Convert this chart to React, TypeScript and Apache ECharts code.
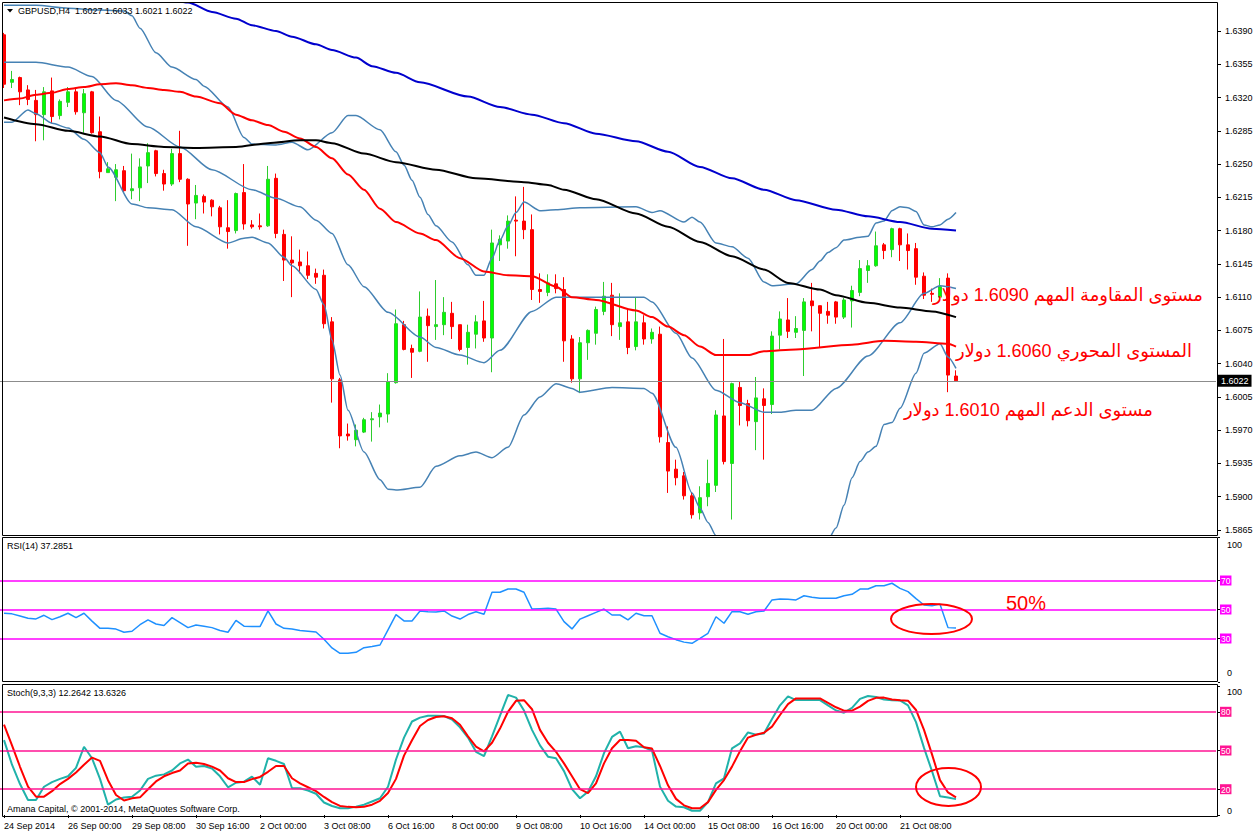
import React, { useEffect, useRef } from 'react';
import * as echarts from 'echarts';

// ---------- data ----------
const symbolName = 'GBPUSD,H4';
const tickLabels = [
  '24 Sep 2014', '26 Sep 00:00', '29 Sep 08:00', '30 Sep 16:00', '2 Oct 00:00',
  '3 Oct 08:00', '6 Oct 16:00', '8 Oct 00:00', '9 Oct 08:00', '10 Oct 16:00',
  '14 Oct 00:00', '15 Oct 08:00', '16 Oct 16:00', '20 Oct 00:00', '21 Oct 08:00',
];
const priceTicks = [
  1.5865, 1.59, 1.5935, 1.597, 1.6005, 1.604, 1.6075, 1.611, 1.6145, 1.618,
  1.6215, 1.625, 1.6285, 1.632, 1.6355, 1.639,
];
const priceMin = 1.585974;
const priceMax = 1.641946;

// [open, close, low, high]
const candles = [
  [1.6386, 1.6334, 1.633, 1.6388], [1.6336, 1.6339, 1.633, 1.6348], [1.6341, 1.6326, 1.6312, 1.6342],
  [1.6328, 1.6318, 1.6312, 1.6333], [1.6317, 1.6302, 1.6274, 1.6328], [1.6302, 1.6326, 1.6275, 1.6331],
  [1.6327, 1.63, 1.6293, 1.6341], [1.6301, 1.6316, 1.6297, 1.6318], [1.6315, 1.6326, 1.631, 1.6331],
  [1.6326, 1.6305, 1.6302, 1.6329], [1.6304, 1.6324, 1.6283, 1.6329], [1.6326, 1.6283, 1.6282, 1.6327],
  [1.6284, 1.6242, 1.6235, 1.63], [1.6241, 1.6245, 1.6241, 1.6252], [1.6236, 1.6244, 1.6211, 1.625],
  [1.6243, 1.6222, 1.622, 1.6248], [1.6222, 1.6224, 1.6213, 1.6261], [1.6225, 1.6247, 1.6211, 1.6256],
  [1.6248, 1.6262, 1.623, 1.6272], [1.6264, 1.624, 1.6237, 1.6265], [1.624, 1.6229, 1.6222, 1.6244],
  [1.6229, 1.6261, 1.6227, 1.6266], [1.6261, 1.6234, 1.6231, 1.6285], [1.6234, 1.6208, 1.6164, 1.6235],
  [1.6209, 1.6217, 1.6192, 1.6228], [1.6216, 1.621, 1.6198, 1.6218], [1.6212, 1.6205, 1.6195, 1.6213],
  [1.6204, 1.6184, 1.6176, 1.6206], [1.6183, 1.6179, 1.6161, 1.6212], [1.618, 1.6219, 1.6177, 1.622],
  [1.622, 1.6187, 1.6181, 1.625], [1.6186, 1.6184, 1.6182, 1.6191], [1.6185, 1.6184, 1.6181, 1.6198],
  [1.6185, 1.6234, 1.6184, 1.6248], [1.6235, 1.6177, 1.6172, 1.624], [1.6176, 1.6149, 1.6127, 1.6181],
  [1.6149, 1.6146, 1.611, 1.6174], [1.6147, 1.6143, 1.6135, 1.616], [1.6143, 1.6133, 1.6129, 1.6158],
  [1.6135, 1.6131, 1.6124, 1.614], [1.6133, 1.6082, 1.6077, 1.6139], [1.6084, 1.6024, 1.5999, 1.6089],
  [1.6023, 1.5964, 1.5951, 1.6025], [1.5966, 1.5964, 1.5959, 1.5977], [1.596, 1.597, 1.5953, 1.5976],
  [1.5968, 1.5981, 1.5967, 1.5983], [1.5981, 1.5982, 1.5958, 1.5989], [1.5984, 1.5988, 1.5973, 1.5997],
  [1.5987, 1.6021, 1.5978, 1.603], [1.602, 1.6082, 1.6019, 1.6097], [1.6081, 1.6055, 1.6054, 1.6085],
  [1.6056, 1.6052, 1.6025, 1.606], [1.6053, 1.6089, 1.6052, 1.6116], [1.609, 1.608, 1.6042, 1.6098],
  [1.6079, 1.6081, 1.6065, 1.6128], [1.6081, 1.6094, 1.607, 1.611], [1.6093, 1.6079, 1.6066, 1.6105],
  [1.6081, 1.6055, 1.6053, 1.6081], [1.6057, 1.6073, 1.6039, 1.6081], [1.6071, 1.6084, 1.6056, 1.6091],
  [1.6085, 1.6067, 1.6063, 1.6106], [1.6067, 1.6167, 1.6031, 1.6181], [1.6165, 1.6171, 1.6148, 1.6175],
  [1.6169, 1.619, 1.6161, 1.6196], [1.6191, 1.619, 1.6153, 1.6216], [1.619, 1.6181, 1.6171, 1.6226],
  [1.6181, 1.6118, 1.6107, 1.6197], [1.6118, 1.6116, 1.6104, 1.6135], [1.6115, 1.6125, 1.6111, 1.6134],
  [1.6124, 1.6119, 1.6114, 1.6134], [1.6118, 1.6064, 1.6042, 1.6131], [1.6066, 1.6024, 1.602, 1.607],
  [1.6024, 1.6062, 1.6009, 1.6068], [1.6062, 1.6075, 1.6044, 1.6076], [1.6072, 1.6097, 1.606, 1.61],
  [1.6095, 1.6111, 1.6091, 1.6126], [1.6112, 1.6081, 1.6069, 1.6125], [1.6079, 1.6083, 1.6065, 1.6114],
  [1.6084, 1.6057, 1.605, 1.6097], [1.6058, 1.6084, 1.6054, 1.611], [1.6083, 1.6066, 1.606, 1.6091],
  [1.6066, 1.6073, 1.6061, 1.6077], [1.6071, 1.5963, 1.5957, 1.6079], [1.5957, 1.5927, 1.5904, 1.5974],
  [1.5929, 1.592, 1.5912, 1.5939], [1.5922, 1.5901, 1.5897, 1.5926], [1.5901, 1.5881, 1.5877, 1.5905],
  [1.5883, 1.5899, 1.5876, 1.5911], [1.59, 1.5914, 1.589, 1.5939], [1.5912, 1.5986, 1.5905, 1.5991],
  [1.5985, 1.5937, 1.5934, 1.6066], [1.5935, 1.6019, 1.5876, 1.602], [1.6015, 1.5996, 1.5975, 1.6021],
  [1.5998, 1.598, 1.5974, 1.6002], [1.5979, 1.6004, 1.5949, 1.6026], [1.6003, 1.5996, 1.5939, 1.6014],
  [1.5997, 1.6069, 1.5987, 1.6074], [1.607, 1.6087, 1.6055, 1.6095], [1.6086, 1.6074, 1.6067, 1.6109],
  [1.6073, 1.6077, 1.6067, 1.609], [1.6075, 1.6105, 1.6027, 1.6109], [1.6106, 1.6101, 1.6074, 1.6125],
  [1.6101, 1.6093, 1.6057, 1.6101], [1.6095, 1.6091, 1.6082, 1.6105], [1.6105, 1.6089, 1.6082, 1.6106],
  [1.6089, 1.6107, 1.6087, 1.6109], [1.6106, 1.6117, 1.6078, 1.6122], [1.6115, 1.614, 1.6111, 1.6149],
  [1.6138, 1.6143, 1.6125, 1.6149], [1.6143, 1.6164, 1.6142, 1.6179], [1.6165, 1.6159, 1.615, 1.6167],
  [1.616, 1.6182, 1.6152, 1.6183], [1.6182, 1.6165, 1.6148, 1.6183], [1.6165, 1.6159, 1.6139, 1.6177],
  [1.6161, 1.6131, 1.6123, 1.6167], [1.6132, 1.6112, 1.6108, 1.6136], [1.6114, 1.6113, 1.6105, 1.6119],
  [1.611, 1.6121, 1.6109, 1.613], [1.613, 1.6028, 1.601, 1.6135], [1.6027, 1.6022, 1.6021, 1.6033],
];

// indicator lines: [bar index, price] read at points along the curves
const ma200Blue = [
  [20, 1.6424], [23, 1.642], [26, 1.641], [29, 1.6403], [31, 1.6396], [34, 1.639], [36, 1.6384],
  [39, 1.6376], [41, 1.637], [44, 1.6362], [46, 1.6353], [49, 1.6346], [52, 1.6336], [58, 1.6321],
  [62, 1.631], [66, 1.6302], [70, 1.6293], [74, 1.6282], [79, 1.6274], [83, 1.6263], [87, 1.6247],
  [91, 1.6235], [95, 1.6223], [99, 1.6212], [104, 1.6202], [108, 1.6195], [112, 1.6189],
  [116, 1.6182], [119, 1.618],
];
const ma100Black = [
  [0, 1.6299], [4, 1.6292], [8, 1.6285], [12, 1.6279], [16, 1.6271], [20, 1.6268], [24, 1.6267],
  [29, 1.6268], [33, 1.6272], [37, 1.6275], [39, 1.6275], [41, 1.6272], [45, 1.6261], [49, 1.6252],
  [54, 1.6244], [59, 1.6235], [65, 1.6231], [68, 1.6228], [70, 1.6223], [74, 1.6213], [79, 1.6198],
  [83, 1.6184], [87, 1.6168], [91, 1.6153], [95, 1.6139], [98, 1.6125], [102, 1.6118], [104, 1.6112],
  [108, 1.6104], [112, 1.6099], [116, 1.6095], [119, 1.6089],
];
const ma50Red = [
  [0, 1.6317], [2, 1.6319], [4, 1.6323], [6, 1.6325], [8, 1.6329], [10, 1.6331], [12, 1.6334],
  [14, 1.6335], [16, 1.6333], [18, 1.633], [20, 1.6328], [22, 1.6326], [24, 1.6321], [27, 1.6314],
  [29, 1.6302], [31, 1.6296], [33, 1.6291], [35, 1.6284], [37, 1.6277], [39, 1.6268], [41, 1.6256],
  [43, 1.6239], [45, 1.6223], [47, 1.6203], [49, 1.6189], [52, 1.6177], [54, 1.617], [57, 1.6151],
  [60, 1.6137], [63, 1.6133], [66, 1.6132], [69, 1.6121], [71, 1.611], [74, 1.6107], [79, 1.6096],
  [81, 1.6089], [83, 1.6079], [85, 1.607], [87, 1.6058], [89, 1.6049], [93, 1.6049], [95, 1.6053],
  [99, 1.6055], [106, 1.606], [110, 1.6064], [114, 1.6063], [118, 1.6061], [119, 1.6058],
];
const bbUpper = [
  [0, 1.6417], [4, 1.6417], [8, 1.6414], [12, 1.6412], [15, 1.6411], [16, 1.6406], [17, 1.6393],
  [19, 1.6367], [21, 1.6352], [24, 1.6339], [25, 1.6332], [28, 1.631], [30, 1.6278], [31, 1.6271],
  [34, 1.627], [36, 1.6273], [38, 1.6265], [41, 1.6283], [43, 1.6301], [44, 1.6301], [47, 1.6286],
  [49, 1.6263], [50, 1.6249], [51, 1.6233], [52, 1.6215], [53, 1.6197], [54, 1.6185], [56, 1.6168],
  [58, 1.6144], [59, 1.6133], [60, 1.6133], [61, 1.6151], [62, 1.617], [63, 1.6185], [64, 1.6199],
  [65, 1.621], [67, 1.6201], [69, 1.6202], [72, 1.6204], [79, 1.6205], [81, 1.6199], [82, 1.6201],
  [85, 1.6189], [86, 1.6194], [87, 1.6189], [89, 1.6167], [91, 1.6163], [93, 1.6151], [95, 1.6126],
  [96, 1.6122], [99, 1.6124], [101, 1.6139], [102, 1.6148], [103, 1.6157], [104, 1.6162],
  [105, 1.617], [107, 1.6173], [108, 1.6174], [109, 1.6188], [110, 1.619], [111, 1.6201],
  [112, 1.6205], [113, 1.6204], [114, 1.62], [115, 1.6186], [116, 1.6184], [117, 1.6186],
  [118, 1.6192], [119, 1.6199],
];
const bbMiddle = [
  [0, 1.6357], [4, 1.6357], [8, 1.6352], [11, 1.6342], [14, 1.6317], [18, 1.6289], [22, 1.6268],
  [26, 1.6244], [31, 1.6223], [34, 1.6214], [37, 1.6205], [39, 1.6191], [41, 1.6177], [43, 1.6144],
  [45, 1.6121], [48, 1.6094], [52, 1.6068], [54, 1.6057], [57, 1.6049], [60, 1.6041], [62, 1.6054],
  [66, 1.6095], [69, 1.611], [80, 1.611], [81, 1.6105], [84, 1.6072], [86, 1.6046], [89, 1.6012],
  [92, 1.5999], [95, 1.5989], [97, 1.5989], [99, 1.5991], [101, 1.5991], [104, 1.6014],
  [108, 1.6048], [112, 1.6083], [115, 1.6114], [117, 1.6122], [119, 1.6119],
];
const bbLower = [
  [0, 1.6294], [1, 1.6294], [3, 1.6307], [4, 1.6303], [6, 1.6293], [8, 1.6288], [10, 1.6276],
  [12, 1.6262], [13, 1.6247], [16, 1.6208], [18, 1.6204], [21, 1.6202], [24, 1.6184], [28, 1.6167],
  [30, 1.6172], [31, 1.6173], [33, 1.6167], [35, 1.6152], [36, 1.6143], [39, 1.6118], [40, 1.6102],
  [41, 1.6065], [42, 1.6028], [43, 1.5991], [45, 1.5947], [47, 1.5918], [48, 1.5908], [49, 1.5907],
  [52, 1.591], [54, 1.5932], [57, 1.5943], [59, 1.5947], [61, 1.5941], [63, 1.5952], [65, 1.5986],
  [67, 1.6005], [69, 1.6019], [71, 1.6014], [72, 1.601], [76, 1.6015], [80, 1.6014], [81, 1.6009],
  [84, 1.5952], [86, 1.5904], [87, 1.5888], [88, 1.5873], [89, 1.5859], [90, 1.5848], [92, 1.5843],
  [96, 1.584], [100, 1.5843], [102, 1.5848], [103, 1.5855], [104, 1.5867], [105, 1.5891],
  [106, 1.592], [107, 1.5937], [108, 1.5947], [109, 1.5953], [110, 1.5976], [111, 1.5978],
  [112, 1.5993], [114, 1.603], [115, 1.6051], [117, 1.6061], [118, 1.6047], [119, 1.6035],
];

const rsiValues = [
  47.4, 47, 45.5, 44, 43.5, 46, 43, 45, 47.4, 44.4, 47.4, 42, 37, 37, 36.5, 34.3, 35, 39.5, 42.8, 40,
  39, 44.4, 41, 37.5, 39.3, 38.5, 37.5, 35.5, 34.3, 42.5, 38.5, 38.2, 38.2, 49, 40, 37, 36.6, 35.5, 35, 34.5,
  29.5, 23.5, 19.8, 19.8, 20.5, 23.7, 24.5, 25.5, 36, 46.5, 42.1, 42.1, 49, 48.5, 48.3, 49, 45.5, 43.4, 46.5, 48.5,
  46.7, 61.9, 61.9, 64.1, 64.1, 61.9, 50.3, 50.6, 50.8, 50.3, 41.6, 36.6, 43.4, 45.7, 48, 50.3, 46.2, 46.2, 42.8, 47.4,
  45.7, 45.7, 33.6, 31.2, 29.2, 27.5, 26.7, 30.1, 33.6, 45, 40.5, 48.5, 48.5, 46.7, 48.5, 49, 56.6, 57.2, 57, 56.6,
  59.5, 58.5, 57.7, 57.7, 57.7, 59.5, 60.5, 64.1, 64.1, 66.4, 66.4, 68.1, 64.6, 62.3, 57.5, 53.1, 52.6, 53.7, 37.5, 37.3,
];
const stochMain = [
  58, 39, 24, 11.6, 11.6, 21.9, 25.5, 28, 30, 36.5, 52.9, 44, 28, 8, 12, 13.5, 14.2, 19, 28, 30.5,
  31.5, 34.5, 40, 43, 37.4, 38, 36, 30, 21.5, 25, 25.8, 29.7, 23.5, 44, 42, 39.5, 20.7, 20.7, 19, 16.5,
  9.7, 7, 5.2, 5.2, 6.5, 8, 10.5, 13, 21.9, 43, 60, 72.5, 75.5, 77, 77, 76.7, 74, 68, 60, 49,
  45.7, 61, 77, 93, 91, 81, 66, 54, 45.2, 44, 34, 20, 13, 18, 30, 48, 60.5, 64.6, 51.7, 53.3,
  52.5, 50, 22, 11, 6.5, 6, 3.3, 3.3, 10, 24.5, 28.4, 51.7, 55.5, 64, 62.3, 63.2, 74.5, 85, 92, 89.1,
  89.1, 89.1, 89.1, 85, 81, 79.3, 83, 90, 92.2, 91.5, 89.5, 89, 88.8, 85, 72, 52, 34, 14.5, 13.5, 12.3,
];
const stochSignal = [
  70, 54, 37.4, 22, 14.2, 14.2, 18.5, 24, 28, 33, 39, 44.5, 42, 27, 15.5, 11.2, 12.9, 13.7, 20, 26,
  30, 32.5, 34.5, 40, 40.5, 39.5, 37.5, 34.5, 28.5, 25.5, 25.5, 27.8, 29.5, 33.5, 38, 38, 28.5, 24.5, 21.5, 18.5,
  14, 10, 7, 6.3, 6, 6.4, 8, 11, 17, 28, 46, 58, 69, 73.6, 76, 76.5, 75, 70, 61, 53,
  49.3, 56, 67, 80, 88.5, 89, 82, 66, 56, 49, 40, 30, 20, 17, 24.5, 40, 51.7, 58.1, 58.1, 57.5,
  52.5, 51.5, 38, 23, 12.5, 7.5, 5.2, 5.2, 10, 19.5, 27.1, 37.5, 49.5, 60, 62.2, 63.8, 68.5, 77.5, 86, 90.4,
  90.4, 90.4, 90.4, 87, 83.5, 80.9, 80.9, 84, 88.5, 90.8, 91, 89.5, 89, 88.6, 81.4, 66, 47, 27, 17.5, 13.6,
];
const rsiLevels = [30, 50, 70];
const rsiAxisValues = [0, 30, 50, 70, 100];
const stochLevels = [20, 50, 80];
const stochAxisValues = [0, 20, 50, 80, 100];
const rsiReading = 'RSI(14) 37.2851';
const stochReading = 'Stoch(9,3,3) 12.2642 13.6326';
const copyright = 'Amana Capital, © 2001-2014, MetaQuotes Software Corp.';
const noteResistance = 'مستوى المقاومة المهم 1.6090 دولار';
const notePivot = 'المستوى المحوري 1.6060 دولار';
const noteSupport = 'مستوى الدعم المهم 1.6010 دولار';
const noteRsi = '50%';

// ---------- layout ----------
const BAR_SLOTS = 152;
const FONT = '"Liberation Sans", Arial, sans-serif';
const AR_FONT = '"Liberation Sans", "DejaVu Sans", sans-serif';

const categories = Array.from({ length: BAR_SLOTS }, (_, i) =>
  i % 8 === 0 && i / 8 < tickLabels.length ? tickLabels[i / 8] : ''
);
const showTick = (i: number) => i % 8 === 0 && i / 8 < tickLabels.length;

const last = candles[candles.length - 1];
const titleText = `${symbolName}  ${last[0].toFixed(4)} ${last[3].toFixed(4)} ${last[2].toFixed(4)} ${last[1].toFixed(4)}`;

function levelAxisLabel(color: string, topPad: number, botPad: number, values: number[]) {
  return {
    show: true,
    customValues: values,
    margin: 2,
    formatter: (v: number) => (v === 100 ? `{top|${v}}` : v === 0 ? `{bot|${v}}` : `{lv|${v}}`),
    rich: {
      top: { color: '#000', fontSize: 9, fontFamily: FONT, padding: [topPad, 0, 0, 7] },
      bot: { color: '#000', fontSize: 9, fontFamily: FONT, padding: [0, 0, botPad, 7] },
      lv: { color: '#fff', backgroundColor: color, fontSize: 8.5, fontFamily: FONT, padding: [1, 1, 0, 1] },
    },
  };
}

export default function App() {
  const ref = useRef<HTMLDivElement>(null);

  useEffect(() => {
    if (!ref.current) return;
    const chart = echarts.init(ref.current, undefined, { renderer: 'svg' });

    const hiddenX = (gi: number) => ({
      type: 'category', gridIndex: gi, data: categories, boundaryGap: true, show: false,
    });

    const lineSeries = (name: string, data: number[][], color: string, width: number) => ({
      name, type: 'line', xAxisIndex: 0, yAxisIndex: 0, data, symbol: 'none',
      smooth: 0.25, smoothMonotone: 'x', silent: true,
      lineStyle: { color, width }, z: 3,
    });

    const option: any = {
      animation: false,
      backgroundColor: '#ffffff',
      textStyle: { fontFamily: FONT },
      grid: [
        { left: 0, top: 3, width: 1216, height: 532, show: false, outerBoundsMode: 'none' },
        { left: 0, top: 537, width: 1216, height: 145, show: false, outerBoundsMode: 'none' },
        { left: 0, top: 686, width: 1216, height: 129, show: false, outerBoundsMode: 'none' },
      ],
      xAxis: [
        hiddenX(0),
        hiddenX(1),
        {
          type: 'category', gridIndex: 2, data: categories, boundaryGap: true, offset: 1.5,
          axisLine: { show: false },
          axisTick: { show: true, interval: showTick, alignWithLabel: true, length: 3, lineStyle: { color: '#000' } },
          axisLabel: { show: true, interval: showTick, align: 'left', fontSize: 9, color: '#000', margin: 5, fontFamily: FONT },
          splitLine: { show: false },
        },
      ],
      yAxis: [
        {
          type: 'value', gridIndex: 0, position: 'right', offset: 2, min: priceMin, max: priceMax,
          axisLine: { show: false }, splitLine: { show: false },
          axisTick: { show: true, customValues: priceTicks, length: 3, lineStyle: { color: '#000' } },
          axisLabel: {
            show: true, customValues: priceTicks, formatter: (v: number) => v.toFixed(4),
            color: '#000', fontSize: 9, fontFamily: FONT, margin: 7,
          },
        },
        {
          type: 'value', gridIndex: 1, position: 'right', offset: 2, min: 0, max: 100,
          axisLine: { show: false }, splitLine: { show: false },
          axisTick: { show: true, customValues: rsiAxisValues, length: 2, lineStyle: { color: '#000' } },
          axisLabel: levelAxisLabel('#FF00FF', 16, 18, rsiAxisValues),
        },
        {
          type: 'value', gridIndex: 2, position: 'right', offset: 2, min: 0, max: 100,
          axisLine: { show: false }, splitLine: { show: false },
          axisTick: { show: true, customValues: stochAxisValues, length: 2, lineStyle: { color: '#000' } },
          axisLabel: levelAxisLabel('#FF1493', 11, 9, stochAxisValues),
        },
      ],
      series: [
        {
          name: 'price', type: 'candlestick', xAxisIndex: 0, yAxisIndex: 0, data: candles,
          barWidth: 3, silent: true, z: 2,
          itemStyle: { color: '#00FF00', color0: '#FF0000', borderColor: '#2ECC2E', borderColor0: '#FF0000', borderWidth: 1 },
        },
        lineSeries('bbUpper', bbUpper, '#4682B4', 1.5),
        lineSeries('bbMiddle', bbMiddle, '#4682B4', 1.5),
        lineSeries('bbLower', bbLower, '#4682B4', 1.5),
        {
          ...lineSeries('ma50', ma50Red, '#FF0000', 2),
          markLine: {
            silent: true, symbol: ['none', 'none'], animation: false, precision: 4,
            lineStyle: { color: '#8C8C8C', width: 1, type: 'solid' },
            label: {
              show: true, position: 'end', formatter: last[1].toFixed(4), distance: 2,
              backgroundColor: '#000', color: '#fff', fontSize: 9, fontFamily: FONT, padding: [2, 3, 1, 3],
            },
            data: [{ yAxis: last[1] }],
          },
        },
        lineSeries('ma100', ma100Black, '#000000', 2),
        lineSeries('ma200', ma200Blue, '#0000CD', 2),
        {
          name: 'rsi', type: 'line', xAxisIndex: 1, yAxisIndex: 1, data: rsiValues, symbol: 'none', silent: true,
          lineStyle: { color: '#1E90FF', width: 1.5 }, z: 3,
          markLine: {
            silent: true, symbol: ['none', 'none'], animation: false, label: { show: false },
            lineStyle: { color: '#FF00FF', width: 1.5, type: 'solid' },
            data: rsiLevels.map((v) => ({ yAxis: v })),
          },
        },
        {
          name: 'stochMain', type: 'line', xAxisIndex: 2, yAxisIndex: 2, data: stochMain, symbol: 'none', silent: true,
          lineStyle: { color: '#20B2AA', width: 2 }, z: 3,
          markLine: {
            silent: true, symbol: ['none', 'none'], animation: false, label: { show: false },
            lineStyle: { color: '#FF1493', width: 1.5, type: 'solid' },
            data: stochLevels.map((v) => ({ yAxis: v })),
          },
        },
        {
          name: 'stochSignal', type: 'line', xAxisIndex: 2, yAxisIndex: 2, data: stochSignal, symbol: 'none', silent: true,
          lineStyle: { color: '#FF0000', width: 2 }, z: 4,
        },
      ],
      graphic: [
        { type: 'rect', silent: true, z: 50, shape: { x: 2.5, y: 2.5, width: 1215, height: 533 }, style: { fill: 'none', stroke: '#000', lineWidth: 1 } },
        { type: 'rect', silent: true, z: 50, shape: { x: 2.5, y: 537.5, width: 1215, height: 144 }, style: { fill: 'none', stroke: '#000', lineWidth: 1 } },
        { type: 'rect', silent: true, z: 50, shape: { x: 2.5, y: 684.5, width: 1215, height: 132 }, style: { fill: 'none', stroke: '#000', lineWidth: 1 } },
        { type: 'polygon', silent: true, z: 50, shape: { points: [[7, 9], [13, 9], [10, 12.5]] }, style: { fill: '#000' } },
        { type: 'text', silent: true, z: 50, x: 18, y: 11, style: { text: titleText, fontSize: 9, fontFamily: FONT, fill: '#000', verticalAlign: 'middle' } },
        { type: 'text', silent: true, z: 50, x: 7, y: 546, style: { text: rsiReading, fontSize: 9, fontFamily: FONT, fill: '#000', verticalAlign: 'middle' } },
        { type: 'text', silent: true, z: 50, x: 7, y: 693, style: { text: stochReading, fontSize: 9, fontFamily: FONT, fill: '#000', verticalAlign: 'middle' } },
        { type: 'text', silent: true, z: 50, x: 7, y: 809, style: { text: copyright, fontSize: 9, fontFamily: FONT, fill: '#000', verticalAlign: 'middle' } },
        { type: 'text', silent: true, z: 60, x: 1203, y: 295, style: { text: noteResistance, fontSize: 18, fontFamily: AR_FONT, fill: '#FF0000', align: 'right', verticalAlign: 'middle' } },
        { type: 'text', silent: true, z: 60, x: 1192, y: 351, style: { text: notePivot, fontSize: 18, fontFamily: AR_FONT, fill: '#FF0000', align: 'right', verticalAlign: 'middle' } },
        { type: 'text', silent: true, z: 60, x: 1153, y: 410, style: { text: noteSupport, fontSize: 18, fontFamily: AR_FONT, fill: '#FF0000', align: 'right', verticalAlign: 'middle' } },
        { type: 'text', silent: true, z: 60, x: 1006, y: 603, style: { text: noteRsi, fontSize: 20, fontFamily: FONT, fill: '#FF0000', verticalAlign: 'middle' } },
        { type: 'ellipse', silent: true, z: 60, shape: { cx: 931.5, cy: 619, rx: 40.5, ry: 15 }, style: { fill: 'none', stroke: '#FF0000', lineWidth: 2 } },
        { type: 'ellipse', silent: true, z: 60, shape: { cx: 948.5, cy: 787, rx: 32.5, ry: 19 }, style: { fill: 'none', stroke: '#FF0000', lineWidth: 2 } },
      ],
    };

    chart.setOption(option);
    return () => chart.dispose();
  }, []);

  return (
    <div
      ref={ref}
      style={{ position: 'fixed', left: 0, top: 0, width: 1258, height: 835, background: '#fff' }}
    />
  );
}
